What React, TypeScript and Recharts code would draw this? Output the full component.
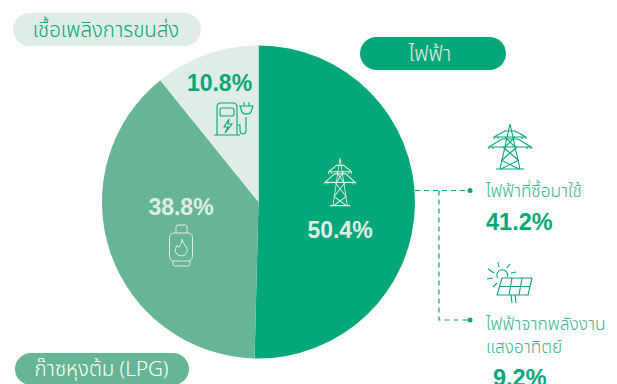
import React from "react";
import { PieChart, Pie, Cell } from "recharts";

const categories = ["ไฟฟ้า", "ก๊าซหุงต้ม (LPG)", "เชื้อเพลิงการขนส่ง"];
const shares = [50.4, 38.8, 10.8];
const sliceColors = ["#04A777", "#66B595", "#E0EDE6"];
const labelColors = ["#E0EDE6", "#E0EDE6", "#04A777"];
const labelSpots = [
  [340, 229.5],
  [181, 207],
  [219.5, 83],
];
const subLabels = ["ไฟฟ้าที่ซื้อมาใช้", "ไฟฟ้าจากพลังงาน", "แสงอาทิตย์"];
const subValues = ["41.2%", "9.2%"];

const font = "'Noto Sans', 'Noto Sans Thai', 'Open Sans', 'DejaVu Sans', sans-serif";
const boldFont = "'Liberation Sans', Arial, sans-serif";
const tableData = categories.map((name, i) => ({ name, value: shares[i] }));

function Tower({ x, y, c, sx = 1, sy = 1 }: { x: number; y: number; c: string; sx?: number; sy?: number }) {
  return (
    <g transform={`translate(${x},${y}) scale(${sx},${sy})`} fill="none" stroke={c} strokeWidth={1.1}>
      <path d="M21 0 L11 45 M21 0 L31 45 M7 45 H35" />
      <path d="M5 13 L16 7 H26 L37 13 Z M0 23 L13 15 H29 L42 23 Z" />
      <path d="M16 13 L26 23 M26 13 L16 23 M14 23 L29 36 M28 23 L13 36 M12 36 L30 45 M30 36 L12 45" />
      <path d="M5 13 V15 M37 13 V15 M0 23 V25 M42 23 V25 M9 13 V15 M33 13 V15 M4 23 V25 M38 23 V25" />
    </g>
  );
}

function Plug({ x, y, c }: { x: number; y: number; c: string }) {
  return (
    <g transform={`translate(${x},${y})`} fill="none" stroke={c} strokeWidth={1.1}>
      <path d="M0 34 H26 M3 34 V6 Q3 2 7 2 H19 Q23 2 23 6 V34" />
      <rect x={6} y={7} width={14} height={8} rx={2} />
      <path d="M15 18 L10 26 H14 L11 32 L18 23 H14 Z" />
      <path d="M23 24 H26 V29 Q26 33 29 33 Q32 33 32 29 V16" />
      <path d="M26 5 H39 L37 11 Q36 13 32.5 13 Q29 13 28 11 Z M30 1 V5 M35 1 V5" />
    </g>
  );
}

function Bottle({ x, y, c }: { x: number; y: number; c: string }) {
  return (
    <g transform={`translate(${x},${y})`} fill="none" stroke={c} strokeWidth={1}>
      <path d="M7 8 V2 Q7 0 9 0 H16 Q18 0 18 2 V8" />
      <rect x={0.5} y={8} width={23} height={28} rx={4.5} />
      <path d="M4 36 V39 Q4 41 6 41 H19 Q21 41 21 39 V36" />
      <path d="M13 14 Q14 18 16.5 21 Q19 24 18 27 Q16.5 31 12.5 31 Q8 31 6.5 27 Q5.5 23 8 20.5 Q9 23 10 22 Q13 19 13 14 Z" />
    </g>
  );
}

function Solar({ x, y, c }: { x: number; y: number; c: string }) {
  return (
    <g transform={`translate(${x},${y})`} fill="none" stroke={c} strokeWidth={1.1}>
      <path d="M10.5 16 A5.5 5.5 0 1 1 20.5 15" />
      <path d="M11 0 L12 5 M23 2 L20 6 M24 11 L29 10 M1 7 L7 11 M0 17 L6 16 M6 25 L10 21" />
      <path d="M15 16 H45 L41 33 H10 Z M13 24.5 H43 M25 16 L22 33 M35 16 L32 33" />
      <path d="M24 33 L25 41 M28 33 L29 41" />
    </g>
  );
}

function Pill({ x, y, w, h, fill, color, text, size, textX }: any) {
  return (
    <g>
      <rect x={x} y={y} width={w} height={h} rx={h / 2} fill={fill} />
      <text x={textX} y={y + h / 2 + size * 0.35} textAnchor="middle" fontFamily={font} fontWeight={300} fontSize={size} fill={color}>
        {text}
      </text>
    </g>
  );
}

const renderLabel = (p: any) => {
  const [x, y] = labelSpots[p.index];
  return (
    <text x={x} y={y + 8.2} textAnchor="middle" fontFamily={boldFont} fontWeight={700} fontSize={23} fill={labelColors[p.index]}>
      {shares[p.index].toFixed(1)}%
    </text>
  );
};

export default function App() {
  const g = sliceColors[0];
  return (
    <div style={{ position: "absolute", left: 0, top: 0, width: 617, height: 384, overflow: "hidden", background: "#fff" }}>
      <PieChart width={617} height={384} margin={{ top: 0, right: 0, bottom: 0, left: 0 }}>
        <Pie
          data={tableData}
          dataKey="value"
          cx={258.5}
          cy={202}
          innerRadius={0}
          outerRadius={156.5}
          startAngle={90}
          endAngle={-270}
          stroke="none"
          label={renderLabel}
          labelLine={false}
          isAnimationActive={false}
        >
          {tableData.map((_, i) => (
            <Cell key={i} fill={sliceColors[i]} />
          ))}
        </Pie>
      </PieChart>
      <svg width={617} height={384} style={{ position: "absolute", left: 0, top: 0 }}>
        <Pill x={13} y={13} w={188} h={33} textX={106} fill="#E0EDE6" color={g} text={categories[2]} size={20.5} />
        <Pill x={360} y={37} w={146} h={33} textX={430} fill={g} color="#E0EDE6" text={categories[0]} size={21} />
        <Pill x={15} y={353} w={174} h={32} textX={101.5} fill={sliceColors[1]} color="#fff" text={categories[1]} size={20.5} />

        <Tower x={325} y={158} c="#E0EDE6" sx={0.72} sy={1.06} />
        <Tower x={489} y={124} c={g} />
        <Plug x={214} y={101} c={g} />
        <Bottle x={169} y={225} c="#E0EDE6" />
        <Solar x={487} y={262} c={g} />

        <path d="M415 190.5 H468 M439 190.5 V320 H468" fill="none" stroke={g} strokeWidth={1.2} strokeDasharray="5 4" />
        <circle cx={470} cy={190.5} r={2.5} fill={g} />
        <circle cx={470} cy={320} r={2.5} fill={g} />

        <text x={486} y={197} fontFamily={font} fontWeight={300} fontSize={17.2} fill="#3CB48F">{subLabels[0]}</text>
        <text x={486} y={230} fontFamily={boldFont} fontWeight={700} fontSize={23.5} fill={g}>{subValues[0]}</text>
        <text x={486} y={330} fontFamily={font} fontWeight={300} fontSize={17.4} fill="#3CB48F">{subLabels[1]}</text>
        <text x={486} y={353} fontFamily={font} fontWeight={300} fontSize={17.2} fill="#3CB48F">{subLabels[2]}</text>
        <text x={493} y={386} fontFamily={boldFont} fontWeight={700} fontSize={23.5} fill={g}>{subValues[1]}</text>
      </svg>
    </div>
  );
}
